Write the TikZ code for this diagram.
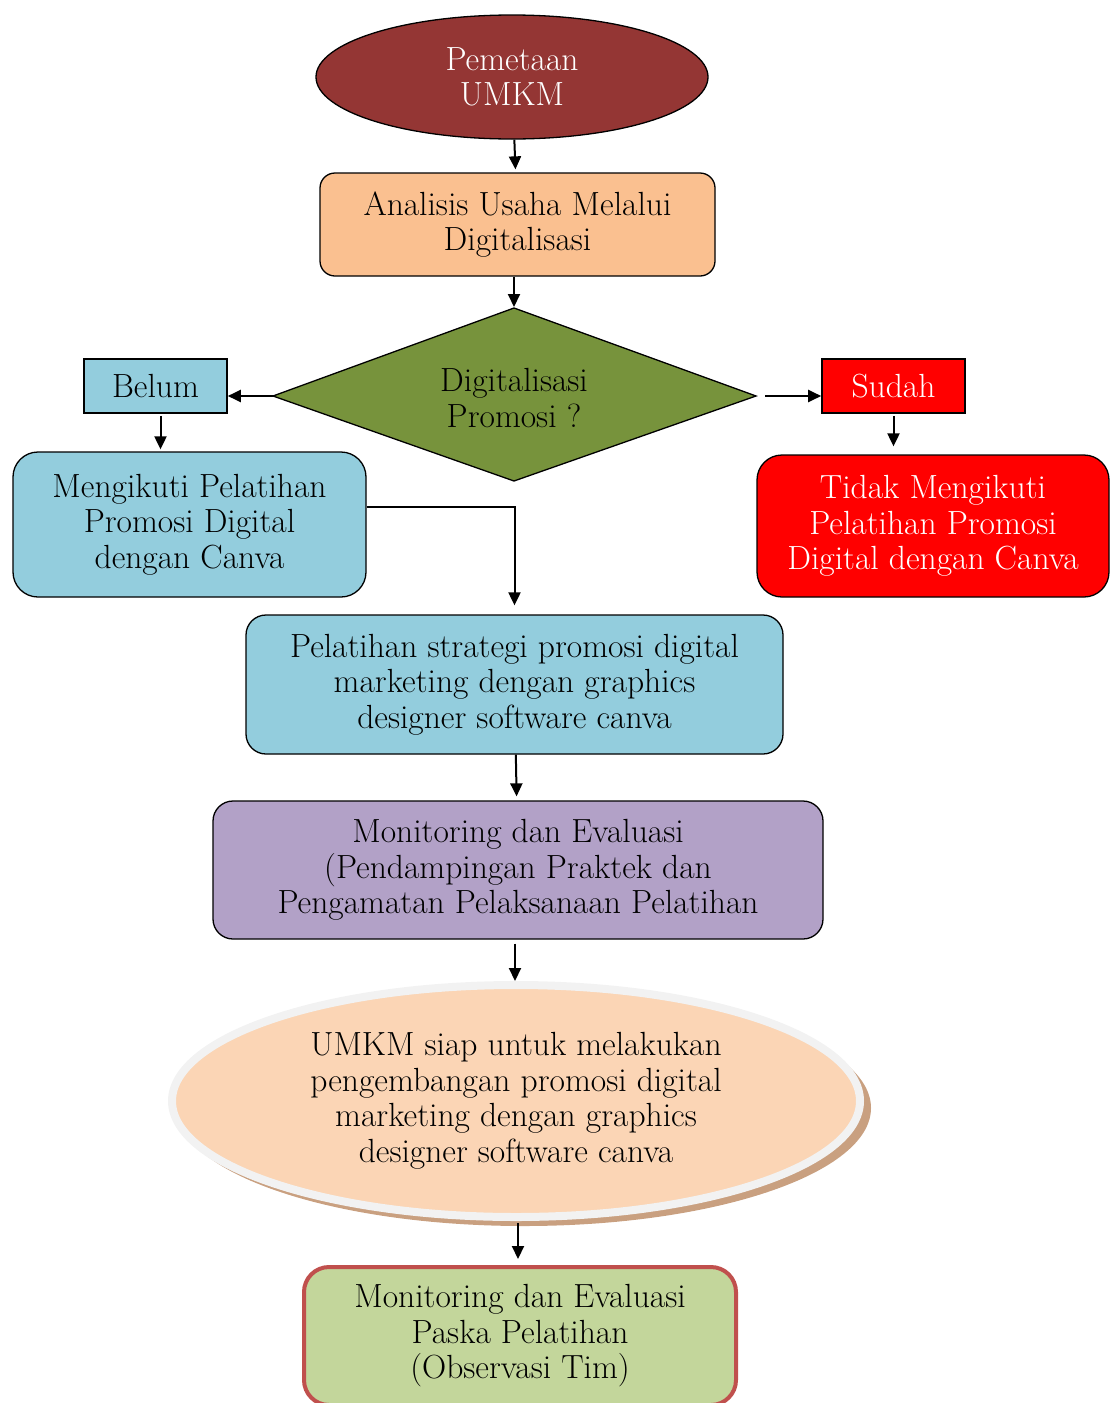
\documentclass[tikz,border=0pt]{standalone}
\usepackage{fontspec}
\setmainfont{Latin Modern Roman}
\usetikzlibrary{shapes.geometric,arrows.meta}
\definecolor{darkred}{HTML}{943634}
\definecolor{orangebox}{HTML}{FAC090}
\definecolor{olivebox}{HTML}{77933C}
\definecolor{bluebox}{HTML}{93CDDD}
\definecolor{purplebox}{HTML}{B2A1C7}
\definecolor{peachbox}{HTML}{FBD5B5}
\definecolor{ringgray}{HTML}{F2F2F2}
\definecolor{shadowtan}{HTML}{C9A080}
\definecolor{greenbox}{HTML}{C3D69B}
\definecolor{redborder}{HTML}{C0504D}
\begin{document}
\begin{tikzpicture}[x=1pt,y=-1pt,
  font=\fontsize{33.5}{35.5}\selectfont,
  every node/.style={align=center, inner sep=0pt},
  rbox/.style={draw, line width=1.3pt, rounded corners=15pt},
  sbox/.style={draw, line width=1.6pt},
  arr/.style={-{Triangle[length=13pt,width=12pt]}, line width=2pt}]
\useasboundingbox (0,0) rectangle (1110,1403);

\node[ellipse, draw, line width=1.3pt, fill=darkred, text=white, minimum width=392pt, minimum height=124pt] (pem) at (512,77) {Pemetaan\\UMKM};
\node[rbox, fill=orangebox, minimum width=395pt, minimum height=103pt] (ana) at (517.5,224.5) {\raisebox{-3pt}{\parbox{390pt}{\centering Analisis Usaha Melalui\\Digitalisasi}}};
% decision diamond
\coordinate (dtop) at (514,308);
\coordinate (dleft) at (273,396);
\coordinate (dright) at (756,396);
\coordinate (dbot) at (514,481);
\filldraw[fill=olivebox, line width=1.3pt, line join=miter] (dtop) -- (dright) -- (dbot) -- (dleft) -- cycle;
\node (dig) at (514,398) {Digitalisasi\\Promosi ?};
\node[sbox, fill=bluebox, minimum width=143pt, minimum height=54pt] (bel) at (155.5,386) {Belum};
\node[sbox, fill=red, text=white, minimum width=143pt, minimum height=54pt] (sud) at (893.5,386) {Sudah};
\node[rbox, rounded corners=25pt, fill=bluebox, minimum width=353pt, minimum height=145pt] (ikut) at (189.5,524.5) {Mengikuti Pelatihan\\Promosi Digital\\dengan Canva};
\node[rbox, rounded corners=25pt, fill=red, text=white, minimum width=352pt, minimum height=142pt] (tidak) at (933,526) {Tidak Mengikuti\\Pelatihan Promosi\\Digital dengan Canva};
\node[rbox, rounded corners=20pt, fill=bluebox, minimum width=537pt, minimum height=139pt] (pel) at (514.5,684.5) {Pelatihan strategi promosi digital\\marketing dengan graphics\\designer software canva};
\node[rbox, rounded corners=20pt, fill=purplebox, minimum width=610pt, minimum height=138pt] (mon) at (518,870) {Monitoring dan Evaluasi\\(Pendampingan Praktek dan\\Pengamatan Pelaksanaan Pelatihan};
\fill[shadowtan] (524,1108) ellipse [x radius=347pt, y radius=118pt];
\node[ellipse, draw=ringgray, line width=8pt, fill=peachbox, minimum width=688pt, minimum height=232pt] (ump) at (516,1101) {UMKM siap untuk melakukan\\pengembangan promosi digital\\marketing dengan graphics\\designer software canva};
\node[draw=redborder, line width=4pt, rounded corners=25pt, fill=greenbox, minimum width=432pt, minimum height=138pt] (fin) at (520,1336) {Monitoring dan Evaluasi\\Paska Pelatihan\\(Observasi Tim)};

\draw[arr, shorten >=3pt] (pem) -- (ana);
\draw[arr, shorten >=1pt] (dtop |- ana.south) -- (dtop);
\draw[arr] (dleft) -- (dleft -| bel.east);
\draw[arr, shorten <=9pt] (dright) -- (dright -| sud.west);
\draw[arr, shorten <=2pt, shorten >=2pt] ([xshift=5pt]bel.south) -- ([xshift=5pt]bel.south |- ikut.north);
\draw[arr, shorten <=2pt, shorten >=8pt] (sud.south) -- (sud.south |- tidak.north);
\draw[arr, shorten >=9pt] ([yshift=18pt]ikut.east) -| (pel.north);
\draw[arr, shorten >=4pt] (pel) -- (mon);
\draw[arr, shorten <=4pt] ([xshift=-3pt]mon.south) -- ([xshift=-3pt]mon.south |- ump.north);
\draw[arr, shorten <=2pt, shorten >=6pt] ([xshift=2pt]ump.south) -- ([xshift=2pt]ump.south |- fin.north);
\end{tikzpicture}
\end{document}
